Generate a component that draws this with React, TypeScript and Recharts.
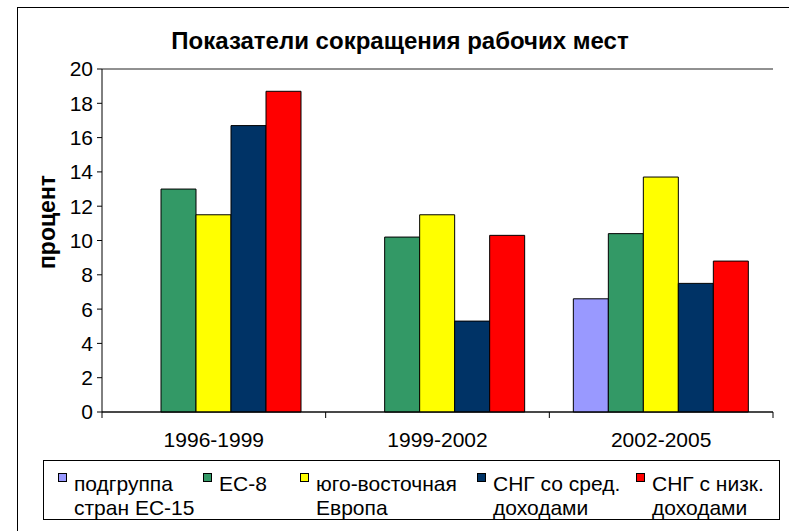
import React from "react";
import { BarChart, Bar, XAxis, YAxis, CartesianGrid } from "recharts";

const periods = ["1996-1999", "1999-2002", "2002-2005"];
const seriesNames = [
  "подгруппа\nстран ЕС-15",
  "ЕС-8",
  "юго-восточная\nЕвропа",
  "СНГ со сред.\nдоходами",
  "СНГ с низк.\nдоходами",
];
const seriesColors = ["#9999FF", "#339966", "#FFFF00", "#003366", "#FF0000"];
const eu15 = [null, null, 6.6];
const eu8 = [13.0, 10.2, 10.4];
const seEurope = [11.5, 11.5, 13.7];
const cisMid = [16.7, 5.3, 7.5];
const cisLow = [18.7, 10.3, 8.8];
const yTicks = [0, 2, 4, 6, 8, 10, 12, 14, 16, 18, 20];
const title = "Показатели сокращения рабочих мест";
const yLabel = "процент";

const seriesValues = [eu15, eu8, seEurope, cisMid, cisLow];
const keys = ["s0", "s1", "s2", "s3", "s4"];
const data = periods.map((p, i) => {
  const row: any = { period: p };
  keys.forEach((k, j) => (row[k] = seriesValues[j][i]));
  return row;
});

const FONT = "'Liberation Sans', Arial, sans-serif";
const legendX = [58, 203, 300, 477, 636];

const XTick = (props: any) => {
  const { x, payload, index, visibleTicksCount } = props;
  const half = payload && payload.offset ? payload.offset : 671 / 6;
  const axisY = 412;
  return (
    <g>
      <line x1={x - half} y1={axisY} x2={x - half} y2={axisY + 6} stroke="#000" />
      {index === visibleTicksCount - 1 && (
        <line x1={x + half} y1={axisY} x2={x + half} y2={axisY + 6} stroke="#000" />
      )}
      <text x={x} y={447} textAnchor="middle" fontSize={21} fontFamily={FONT} fill="#000">
        {payload.value}
      </text>
    </g>
  );
};

const YLabel = () => (
  <text
    x={0}
    y={0}
    transform="translate(55, 222) rotate(-90)"
    textAnchor="middle"
    fontSize={23}
    fontWeight="bold"
    fontFamily={FONT}
    fill="#000"
  >
    {yLabel}
  </text>
);

export default function App() {
  return (
    <div style={{ position: "absolute", left: 0, top: 0, width: 789, height: 531, background: "#fff", overflow: "hidden" }}>
      <div style={{ position: "absolute", left: 17, top: 7, width: 900, height: 700, borderLeft: "1px solid #000", borderTop: "1px solid #000" }} />
      <div style={{ position: "absolute", left: 0, top: 27, width: 800, textAlign: "center", fontFamily: FONT, fontWeight: "bold", fontSize: 24, color: "#000" }}>
        {title}
      </div>
      <div style={{ position: "absolute", left: 0, top: 0 }}>
        <BarChart
          width={789}
          height={531}
          data={data}
          margin={{ top: 69, right: 16, bottom: 79, left: 42 }}
          barGap={0}
          barSize={35}
        >
          <CartesianGrid vertical={false} stroke="#222" strokeOpacity={1} />
          <XAxis
            dataKey="period"
            tickLine={false}
            axisLine={{ stroke: "#000" }}
            height={40}
            interval={0}
            tick={<XTick />}
          />
          <YAxis
            yAxisId="left"
            domain={[0, 20]}
            ticks={yTicks}
            interval={0}
            width={60}
            axisLine={{ stroke: "#000" }}
            tickLine={{ stroke: "#000" }}
            tickSize={5}
            tickMargin={4}
            tick={{ fontSize: 21, fontFamily: FONT, fill: "#000" }}
            label={{ content: <YLabel /> }}
          />
          <YAxis yAxisId="right" orientation="right" domain={[0, 20]} width={0} tick={false} tickLine={false} axisLine={{ stroke: "#888" }} />
          {keys.map((k, j) => (
            <Bar key={k} yAxisId="left" dataKey={k} name={seriesNames[j]} fill={seriesColors[j]} stroke="#000" strokeWidth={1} isAnimationActive={false} />
          ))}
        </BarChart>
      </div>
      <div style={{ position: "absolute", left: 43, top: 460, width: 735, height: 58, border: "1px solid #000" }} />
      {seriesNames.map((n, j) => (
        <div key={n} style={{ position: "absolute", left: legendX[j], top: 473, fontFamily: FONT, fontSize: 21, color: "#000" }}>
          <div style={{ position: "absolute", left: 0, top: 0, width: 7, height: 7, background: seriesColors[j], border: "1px solid #000" }} />
          <div style={{ position: "absolute", left: 16, top: -1, whiteSpace: "pre", lineHeight: "24px" }}>{n}</div>
        </div>
      ))}
    </div>
  );
}
